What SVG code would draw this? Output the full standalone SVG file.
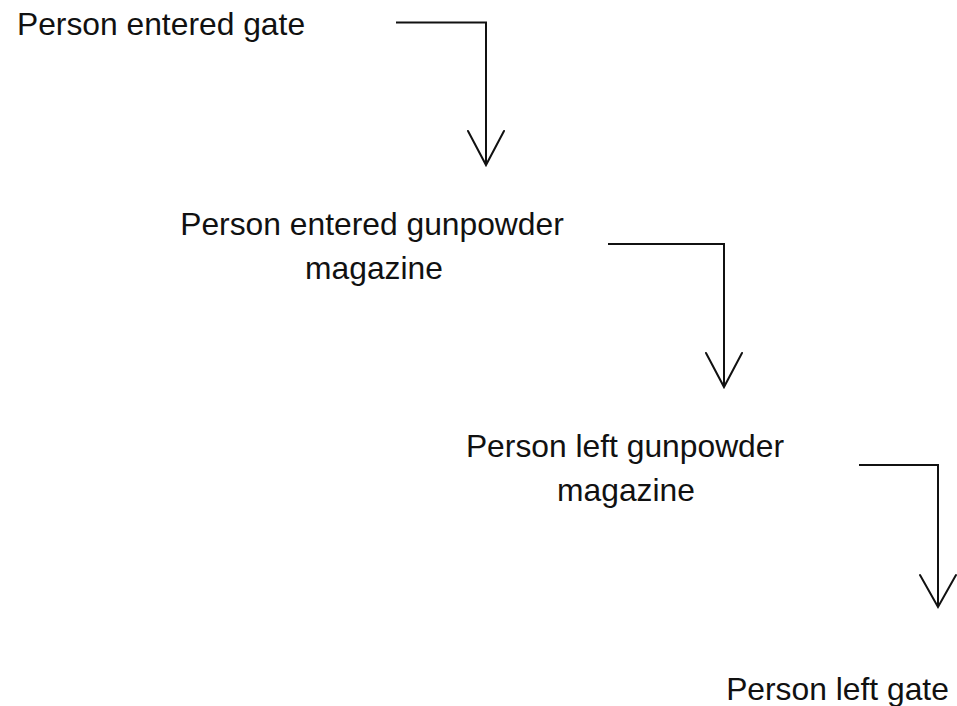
<svg xmlns="http://www.w3.org/2000/svg" width="957" height="706" viewBox="0 0 957 706">
  <style>
    .label { font-family: "Liberation Sans", Arial, sans-serif; font-size: 31.8px; fill: #111; text-anchor: middle; }
    .flow { fill: none; stroke: #111; stroke-width: 2; stroke-linejoin: miter; }
    .head { fill: none; stroke: #111; stroke-width: 2; stroke-linecap: round; stroke-linejoin: miter; }
  </style>
  <rect width="957" height="706" fill="#ffffff"/>

  <g id="node-entered-gate">
    <text class="label" x="161" y="35">Person entered gate</text>
  </g>

  <g id="node-entered-magazine">
    <text class="label" x="372" y="235">Person entered gunpowder</text>
    <text class="label" x="374" y="279">magazine</text>
  </g>

  <g id="node-left-magazine">
    <text class="label" x="625" y="457">Person left gunpowder</text>
    <text class="label" x="626" y="501">magazine</text>
  </g>

  <g id="node-left-gate">
    <text class="label" x="837.5" y="700">Person left gate</text>
  </g>

  <g id="connectors">
    <!-- entered gate -> entered magazine -->
    <path class="flow" d="M396 22.5 H486 V165"/>
    <path class="head" d="M468 131 L486 165 L504 131"/>
    <!-- entered magazine -> left magazine -->
    <path class="flow" d="M608 244 H724 V387"/>
    <path class="head" d="M706 353 L724 387 L742 353"/>
    <!-- left magazine -> left gate -->
    <path class="flow" d="M859 465 H938 V607"/>
    <path class="head" d="M920 575 L938 607 L956 575"/>
  </g>
</svg>
